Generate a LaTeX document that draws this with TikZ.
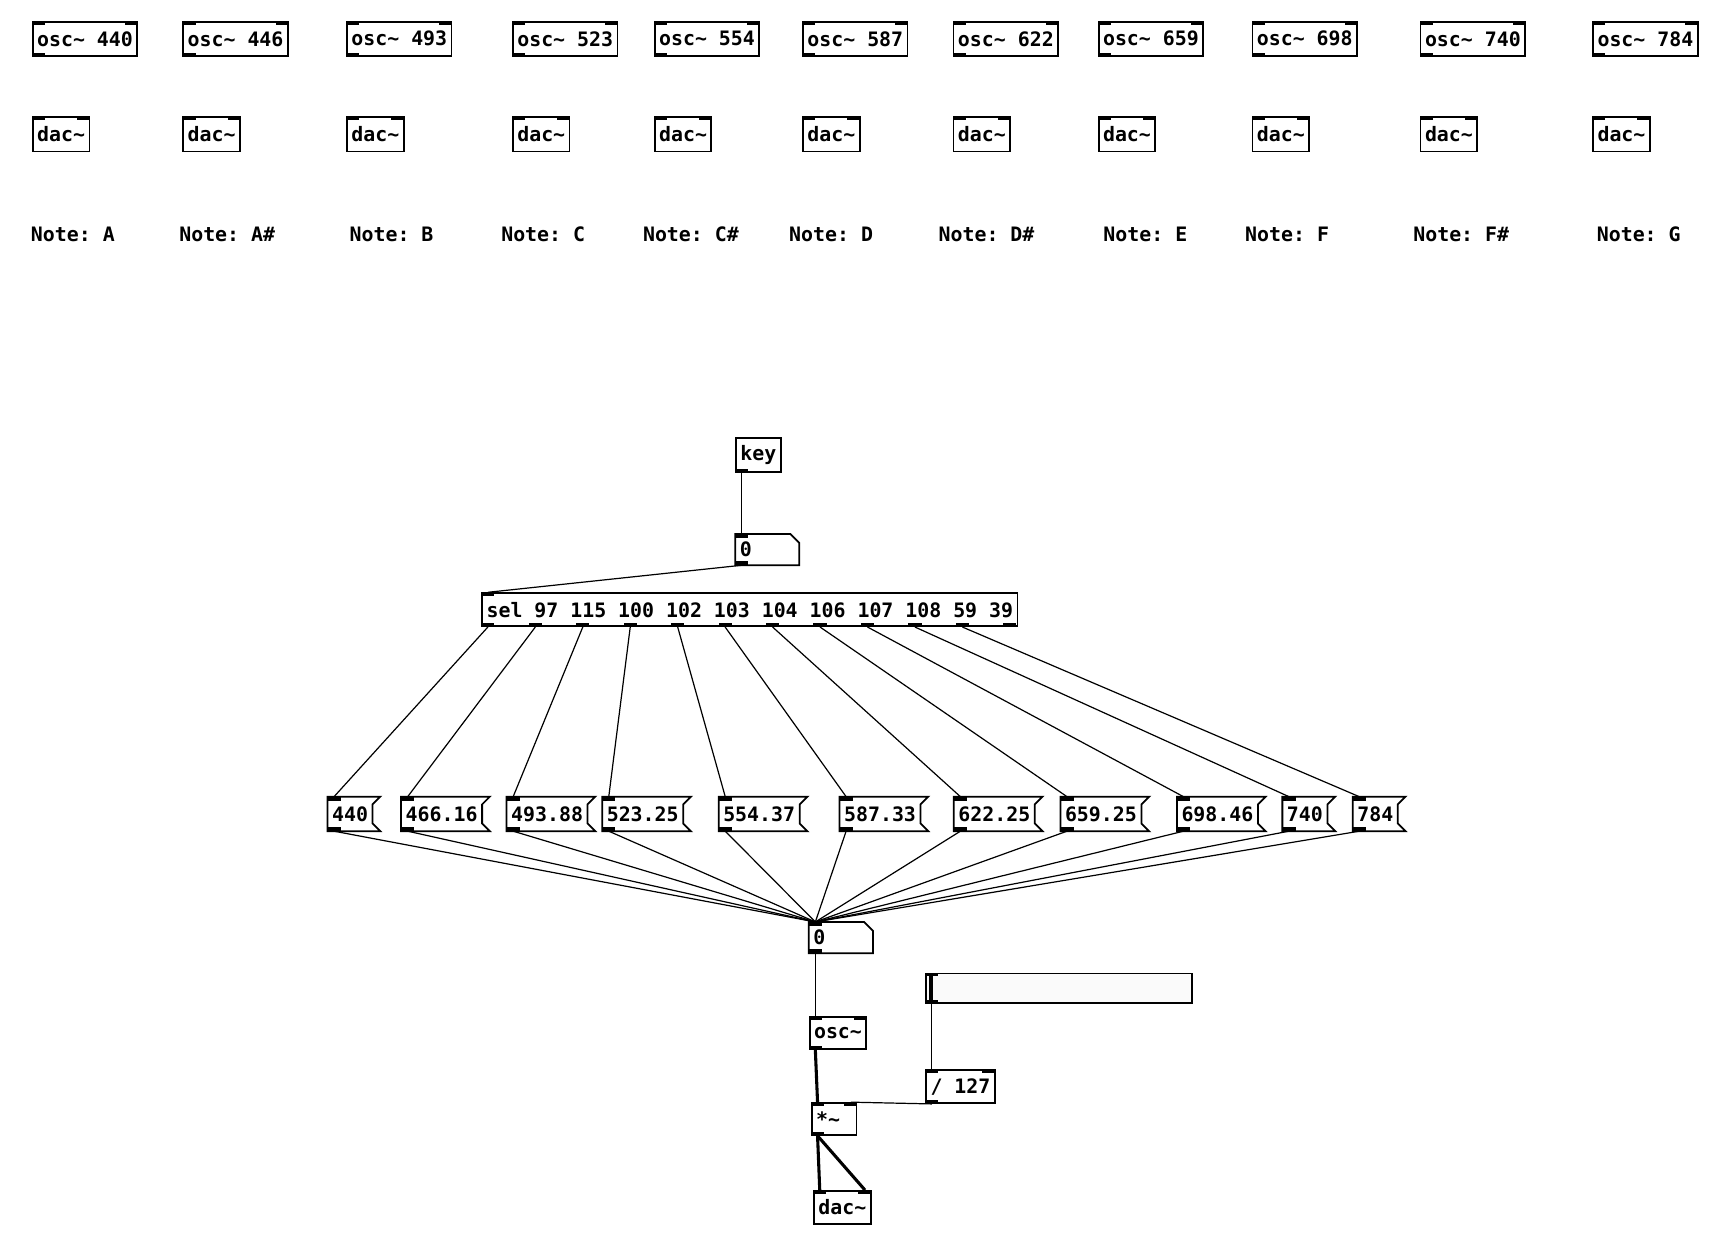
\documentclass[tikz,border=0pt]{standalone}
\usepackage{fontspec}
\newfontfamily\pdfont{DejaVu Sans Mono}
\usetikzlibrary{calc}
\frenchspacing
\newcommand\pdtxt{\pdfont\bfseries\fontsize{18.09}{20}\selectfont\frenchspacing}
\newcommand\tabTL[1]{\fill (#1.north west) rectangle ++(12,3.5);}
\newcommand\tabTR[1]{\fill (#1.north east) rectangle ++(-12,3.5);}
\newcommand\tabBL[1]{\fill (#1.south west) rectangle ++(12,-3.5);}
\newcommand\tabBR[1]{\fill (#1.south east) rectangle ++(-12,-3.5);}
\newcommand\tld{\symbol{"7E}}
\begin{document}
\begin{tikzpicture}[x=1pt,y=-1pt,
  box/.style={draw, line width=1.6pt, anchor=north west, inner xsep=4pt, inner ysep=0pt, minimum height=31pt, font=\pdtxt},
  msg/.style={anchor=north west, inner xsep=4pt, inner ysep=0pt, minimum height=31pt, font=\pdtxt},
  nbox/.style={anchor=north west, inner xsep=4pt, inner ysep=0pt, minimum height=28pt, text width=50pt, align=left, font=\pdtxt},
  lbl/.style={anchor=west, inner sep=0pt, font=\pdtxt},
  bline/.style={line width=1.6pt, line join=miter},
  ctl/.style={line width=1.1pt},
  sig/.style={line width=2.8pt}]
\useasboundingbox[fill=white] (0,0) rectangle (1568,1133);

% top row: oscillators, dacs and labels
\foreach \x/\f/\nx/\nn [count=\i] in {29/440/28/A, 166/446/163/A\#, 315/493/318/B, 466/523/456/C, 595/554/585/C\#, 730/587/718/D, 867/622/854/D\#, 999/659/1004/E, 1139/698/1133/F, 1292/740/1286/F\#, 1449/784/1453/G}{
  \node[box] (osc\i) at (\x,19) {osc\tld{} \f};
  \tabTL{osc\i}\tabTR{osc\i}\tabBL{osc\i}
  \node[box] (dac\i) at (\x,106) {dac\tld};
  \tabTL{dac\i}\tabTR{dac\i}
  \node[lbl] (note\i) at (\nx,213) {Note: \nn};
}

% key and number box
\node[box] (key) at (669,398) {key};
\tabBL{key}
\node[nbox] (num1) at (669,486) {0};
\draw[bline] (num1.north west) -- ($(num1.north east)+(-8,0)$) -- ($(num1.north east)+(0,8)$) -- (num1.south east) -- (num1.south west) -- cycle;
\tabTL{num1}\tabBL{num1}

% select
\node[box, minimum height=30pt] (sel) at (438,539) {sel 97 115 100 102 103 104 106 107 108 59 39};
\tabTL{sel}
\foreach \k in {0,...,11}{
  \fill ($(sel.south west)+(43.18*\k,0)$) rectangle ++(12,-3.5);
}

% message boxes
\foreach \x/\v [count=\i] in {298/440, 365/466.16, 461/493.88, 548/523.25, 654/554.37, 764/587.33, 868/622.25, 965/659.25, 1071/698.46, 1167/740, 1231/784}{
  \node[msg] (m\i) at (\x,725) {\v};
  \draw[bline] (m\i.north west) -- ($(m\i.north east)+(7,0)$) -- ($(m\i.north east)+(0,7)$) -- ($(m\i.south east)+(0,-7)$) -- ($(m\i.south east)+(7,0)$) -- (m\i.south west) -- cycle;
  \tabTL{m\i}\tabBL{m\i}
}

% lower chain
\node[nbox] (num2) at (736,839) {0};
\draw[bline] (num2.north west) -- ($(num2.north east)+(-8,0)$) -- ($(num2.north east)+(0,8)$) -- (num2.south east) -- (num2.south west) -- cycle;
\tabTL{num2}\tabBL{num2}
\node[box, minimum height=29pt] (oscm) at (736,925) {osc\tld};
\tabTL{oscm}\tabTR{oscm}\tabBL{oscm}
\node[draw, line width=1.6pt, fill=black!2, anchor=north west, inner sep=0pt, minimum width=242pt, minimum height=27pt] (sl) at (842,885) {};
\tabTL{sl}\tabBL{sl}
\fill ($(sl.north west)+(3,0)$) rectangle ++(4.5,27);
\node[box, minimum height=30pt] (div) at (842,973) {/ 127};
\tabTL{div}\tabTR{div}\tabBL{div}
\node[box, minimum height=29pt, text width=32.67pt, align=left] (mul) at (738,1003) {*\tld};
\tabTL{mul}\tabTR{mul}\tabBL{mul}
\node[box, minimum height=30pt] (dacm) at (740,1083) {dac\tld};
\tabTL{dacm}\tabTR{dacm}

% connections
\draw[ctl] ($(key.south west)+(6,0)$) -- ($(num1.north west)+(6,0)$);
\draw[ctl] ($(num1.south west)+(6,0)$) -- ($(sel.north west)+(6,0)$);
\foreach \k [evaluate=\k as \j using int(\k+1)] in {0,...,10}{
  \draw[ctl] ($(sel.south west)+(6+43.18*\k,0)$) -- ($(m\j.north west)+(6,0)$);
}
\foreach \i in {1,...,11}{
  \draw[ctl] ($(m\i.south west)+(6,0)$) -- ($(num2.north west)+(6,0)$);
}
\draw[ctl] ($(num2.south west)+(6,0)$) -- ($(oscm.north west)+(6,0)$);
\draw[sig] ($(oscm.south west)+(6,0)$) -- ($(mul.north west)+(6,0)$);
\draw[ctl] ($(sl.south west)+(6,0)$) -- ($(div.north west)+(6,0)$);
\draw[ctl] ($(div.south west)+(6,0)$) -- ($(mul.north east)+(-6,0)$);
\draw[sig] ($(mul.south west)+(6,0)$) -- ($(dacm.north west)+(6,0)$);
\draw[sig] ($(mul.south west)+(6,0)$) -- ($(dacm.north east)+(-6,0)$);
\end{tikzpicture}
\end{document}
